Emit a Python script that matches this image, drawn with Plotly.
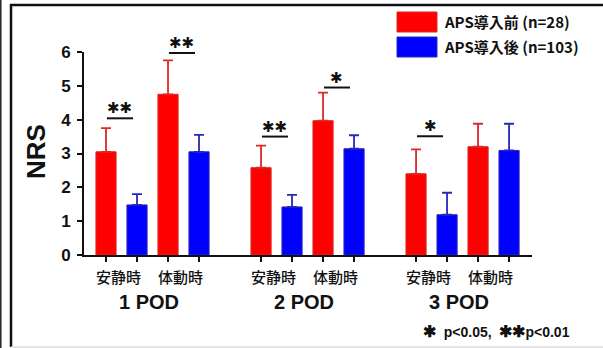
import plotly.graph_objects as go

# ---- data ----
groups = ["1 POD", "2 POD", "3 POD"]
conditions = ["安静時", "体動時"]
series_names = ["APS導入前 (n=28)", "APS導入後 (n=103)"]
# order: 1POD rest, 1POD move, 2POD rest, 2POD move, 3POD rest, 3POD move
before_mean = [3.05, 4.75, 2.58, 3.97, 2.40, 3.20]
before_err = [0.70, 1.00, 0.65, 0.83, 0.72, 0.68]
after_mean = [1.48, 3.05, 1.42, 3.14, 1.19, 3.09]
after_err = [0.32, 0.50, 0.36, 0.40, 0.65, 0.79]
# significance: (pair index, label, line level)
STAR = "✱"
sig_marks = [(0, STAR * 2, 4.04), (1, STAR * 2, 5.97), (2, STAR * 2, 3.50), (3, STAR, 4.95), (4, STAR, 3.51)]
y_ticks = [0, 1, 2, 3, 4, 5, 6]

# ---- layout geometry ----
W, H = 603, 348
L, R, T, B = 84, 532, 52, 255
pair_x = [g * 5 + c * 2 for g in range(3) for c in range(2)]
red_x = [p for p in pair_x]
blue_x = [p + 1 for p in pair_x]

def px(X):
    return (X - L) / (R - L)

def py(Y):
    return (B - Y) / (B - T)

RED, BLUE = "#ff0000", "#0000ff"
RED_D, BLUE_D = "#dc2828", "#2828b8"

fig = go.Figure()
fig.add_trace(go.Bar(
    x=red_x, y=before_mean, width=0.65, name=series_names[0],
    marker=dict(color=RED, line=dict(color=RED_D, width=1)),
    error_y=dict(type="data", symmetric=False, array=before_err,
                 arrayminus=[0] * len(before_err), color=RED_D, thickness=1.8, width=5),
    showlegend=False))
fig.add_trace(go.Bar(
    x=blue_x, y=after_mean, width=0.65, name=series_names[1],
    marker=dict(color=BLUE, line=dict(color=BLUE_D, width=1)),
    error_y=dict(type="data", symmetric=False, array=after_err,
                 arrayminus=[0] * len(after_err), color=BLUE_D, thickness=1.8, width=5),
    showlegend=False))

shapes = []
annotations = []

# significance lines and stars
for idx, lab, lvl in sig_marks:
    c = pair_x[idx] + 0.45
    shapes.append(dict(type="line", xref="x", yref="y", x0=c - 0.42, x1=c + 0.42,
                       y0=lvl, y1=lvl, line=dict(color="#111", width=2)))
    annotations.append(dict(x=c, y=lvl, xref="x", yref="y", text=lab, showarrow=False,
                            yanchor="bottom", yshift=-1,
                            font=dict(family="DejaVu Sans", size=15, color="#111")))

# condition labels and group labels
for i, p in enumerate(pair_x):
    annotations.append(dict(x=p + 0.4, y=py(276), xref="x", yref="paper",
                            text=conditions[i % 2], showarrow=False, yanchor="middle",
                            font=dict(family="Noto Sans CJK JP", size=15, color="#111",
                                      weight=500)))
for g in range(3):
    annotations.append(dict(x=g * 5 + 1.4, y=py(302), xref="x", yref="paper",
                            text="<b>" + groups[g] + "</b>", showarrow=False, yanchor="middle",
                            font=dict(family="Liberation Sans", size=20, color="#111")))

# y title
annotations.append(dict(x=px(36), y=py(152), xref="paper", yref="paper", text="<b>NRS</b>",
                        textangle=-90, showarrow=False, xanchor="center", yanchor="middle",
                        font=dict(family="Liberation Sans", size=26, color="#111")))

# legend
for k, (col, yc) in enumerate([(RED, 22), (BLUE, 47)]):
    shapes.append(dict(type="rect", xref="paper", yref="paper", x0=px(397), x1=px(437),
                       y0=py(yc - 10), y1=py(yc + 10), fillcolor=col,
                       line=dict(color=[RED_D, BLUE_D][k], width=1)))
    annotations.append(dict(x=px(442), y=py(yc), xref="paper", yref="paper",
                            text="<b>" + series_names[k] + "</b>", showarrow=False,
                            xanchor="left", yanchor="middle",
                            font=dict(family="Noto Sans CJK JP", size=15, color="#111")))

# footnote
annotations.append(dict(x=px(572), y=py(331), xref="paper", yref="paper",
                        text="<b><span style='font-size:16px'>" + STAR + "</span>  p&lt;0.05,  "
                             "<span style='font-size:16px'>" + STAR * 2 + "</span>p&lt;0.01</b>",
                        showarrow=False, xanchor="right", yanchor="middle",
                        font=dict(family="Liberation Sans", size=14, color="#111")))

# frame
shapes.append(dict(type="line", xref="paper", yref="paper", x0=px(11), x1=px(11),
                   y0=py(4), y1=py(347), line=dict(color="#111", width=2.5), layer="above"))
shapes.append(dict(type="line", xref="paper", yref="paper", x0=px(10), x1=px(606),
                   y0=py(5), y1=py(5), line=dict(color="#111", width=2.5), layer="above"))
shapes.append(dict(type="line", xref="paper", yref="paper", x0=px(0.8), x1=px(0.8),
                   y0=py(0), y1=py(348), line=dict(color="#222", width=1.5), layer="above"))
shapes.append(dict(type="line", xref="paper", yref="paper", x0=px(11), x1=px(606),
                   y0=py(347), y1=py(347), line=dict(color="#ddd", width=1.5), layer="above"))

fig.update_layout(
    width=W, height=H,
    margin=dict(l=L, r=W - R, t=T, b=H - B, pad=0),
    paper_bgcolor="white", plot_bgcolor="white",
    barmode="overlay",
    shapes=shapes, annotations=annotations,
    xaxis=dict(range=[-0.71, 13.74], tickvals=red_x + blue_x, ticktext=[""] * 12,
               ticks="outside", ticklen=5, tickwidth=2, tickcolor="#111",
               showline=True, linecolor="#111", linewidth=2, showgrid=False,
               zeroline=False, fixedrange=True),
    yaxis=dict(range=[0, 6], tickvals=y_ticks, ticks="outside", ticklen=5, tickwidth=2,
               tickcolor="#111", showline=True, linecolor="#111", linewidth=2,
               showgrid=False, zeroline=False, ticklabelstandoff=3, fixedrange=True,
               tickfont=dict(family="Liberation Sans", size=17, color="#111", weight="bold")),
)

fig.write_html("out.html", config={"displayModeBar": False},
               post_script="document.body.style.margin='0';document.body.style.overflow='hidden';")
